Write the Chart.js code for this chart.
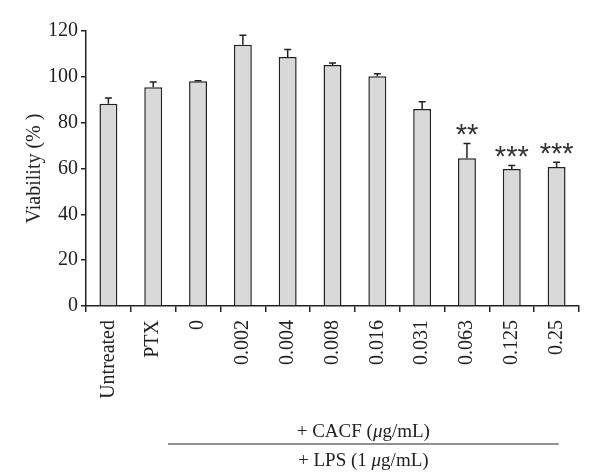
<!DOCTYPE html>
<html>
<head>
<meta charset="utf-8">
<script src="https://cdn.jsdelivr.net/npm/chart.js@4"></script>
<style>
  html, body { margin: 0; padding: 0; background: #fff; }
  #wrap { width: 600px; height: 476px; }
</style>
</head>
<body>
<div id="wrap"><canvas id="viab"></canvas></div>
<script>
// valeurs
const categories = ["Untreated", "PTX", "0", "0.002", "0.004", "0.008", "0.016", "0.031", "0.063", "0.125", "0.25"]
const viability = [88.3, 95.5, 98.1, 114.0, 108.7, 105.2, 100.3, 86.0, 64.5, 59.8, 60.7]
const errorUp = [2.5, 2.2, 0.2, 4.2, 3.2, 0.8, 1.0, 3.1, 6.4, 1.5, 2.0]
const stars = ["", "", "", "", "", "", "", "", "**", "***", "***"]
const yTicks = [0, 20, 40, 60, 80, 100, 120]

const serif = "'Liberation Serif', 'Times New Roman', serif"
const ink = "#222"

// barres d'erreur + étoiles + légende du bas
const extras = {
  id: "extras",
  afterDatasetsDraw(chart) {
    const ctx = chart.ctx
    const xs = chart.scales.x
    const ys = chart.scales.y
    const meta = chart.getDatasetMeta(0)
    ctx.save()
    ctx.strokeStyle = ink
    ctx.lineWidth = 1.5
    meta.data.forEach((bar, i) => {
      const top = ys.getPixelForValue(viability[i] + errorUp[i])
      ctx.beginPath()
      ctx.moveTo(bar.x, bar.y)
      ctx.lineTo(bar.x, top)
      ctx.moveTo(bar.x - 3.5, top)
      ctx.lineTo(bar.x + 3.5, top)
      ctx.stroke()
      if (stars[i]) {
        ctx.fillStyle = "#333"
        ctx.font = "29px 'Liberation Sans', sans-serif"
        ctx.textAlign = "center"
        ctx.textBaseline = "top"
        ctx.fillText(stars[i], bar.x, top - 22)
      }
    })

    // + CACF / + LPS
    const x0 = xs.getPixelForValue(2) - 30
    const x1 = xs.getPixelForValue(10) + 2
    const mid = (x0 + x1) / 2
    ctx.beginPath()
    ctx.lineWidth = 1.2
    ctx.moveTo(x0, 444)
    ctx.lineTo(x1, 444)
    ctx.stroke()
    ctx.fillStyle = ink
    ctx.textBaseline = "middle"
    drawMixed(ctx, ["+ CACF (", "μ", "g/mL)"], mid, 432)
    drawMixed(ctx, ["+ LPS (1 ", "μ", "g/mL)"], mid, 461)
    ctx.restore()
  }
}

// texte avec le μ en italique
function drawMixed(ctx, parts, cx, y) {
  const fonts = ["19px " + serif, "italic 19px " + serif, "19px " + serif]
  let total = 0
  const widths = parts.map((p, k) => {
    ctx.font = fonts[k]
    const w = ctx.measureText(p).width
    total += w
    return w
  })
  let x = cx - total / 2
  ctx.textAlign = "left"
  parts.forEach((p, k) => {
    ctx.font = fonts[k]
    ctx.fillText(p, x, y)
    x += widths[k]
  })
}

new Chart(document.getElementById("viab").getContext("2d"), {
  type: "bar",
  data: {
    labels: categories,
    datasets: [
      {
        data: viability,
        backgroundColor: "#d9d9d9",
        borderColor: ink,
        borderWidth: 1.5,
        barPercentage: 0.4,
        categoryPercentage: 1,
      },
    ],
  },
  options: {
    responsive: true,
    maintainAspectRatio: false,
    animation: false,
    layout: { padding: { top: 31, right: 21, left: 23, bottom: 0 } },
    plugins: { legend: { display: false }, tooltip: { enabled: false } },
    scales: {
      x: {
        afterFit: (s) => { s.height = 170 },
        grid: { drawOnChartArea: false, tickLength: 6, color: ink, lineWidth: 1.5 },
        border: { color: ink, width: 1.5 },
        ticks: {
          minRotation: 90,
          maxRotation: 90,
          padding: 8,
          color: ink,
          font: { family: serif, size: 20 },
        },
      },
      y: {
        min: 0,
        max: 120,
        afterFit: (s) => { s.width = 63 },
        afterBuildTicks: (s) => { s.ticks = yTicks.map((v) => ({ value: v })) },
        grid: { drawOnChartArea: false, tickLength: 5, color: ink, lineWidth: 1.5 },
        border: { color: ink, width: 1.5 },
        ticks: {
          padding: 3,
          color: ink,
          font: { family: serif, size: 20 },
        },
        title: {
          display: true,
          text: "Viability (% )",
          color: ink,
          font: { family: serif, size: 20 },
          padding: { top: 0, bottom: 4 },
        },
      },
    },
  },
  plugins: [extras],
})
</script>
</body>
</html>
